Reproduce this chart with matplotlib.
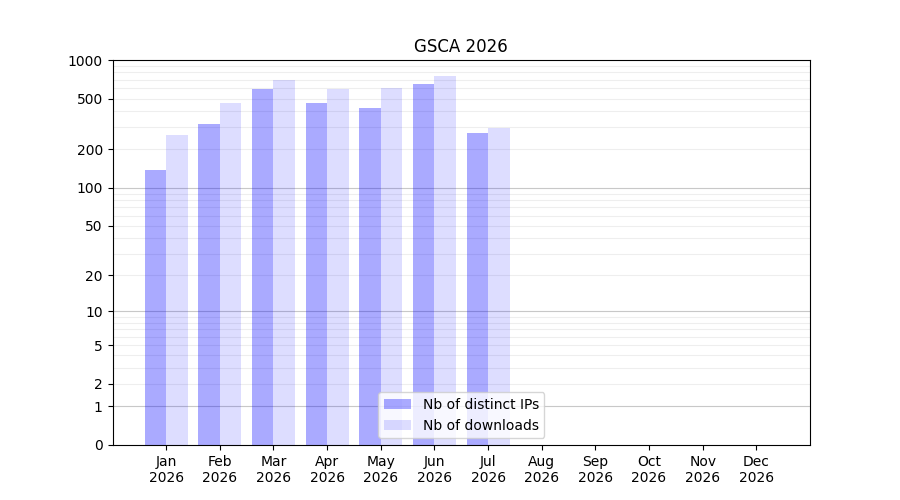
import numpy as np
import matplotlib
matplotlib.use("Agg")
import matplotlib.pyplot as plt

months = ["Jan", "Feb", "Mar", "Apr", "May", "Jun", "Jul", "Aug", "Sep", "Oct", "Nov", "Dec"]
year = "2026"
ips = [139, 315, 593, 461, 421, 649, 268]
downloads = [258, 461, 698, 593, 604, 750, 293]
yticks = [0, 1, 2, 5, 10, 20, 50, 100, 200, 500, 1000]
major_grid = [1, 10, 100]
minor_grid = [v * m for m in (1, 10, 100) for v in range(2, 10)]


def fwd(y):
    return np.log10(np.maximum(y, 0) + 1)


def inv(y):
    return 10 ** y - 1


fig, ax = plt.subplots(figsize=(9, 5), dpi=100)
ax.set_yscale("function", functions=(fwd, inv))

for g in minor_grid:
    ax.axhline(g, color="#eeeeee", lw=0.8, zorder=1)
for g in major_grid:
    ax.axhline(g, color="#c8c8c8", lw=0.8, zorder=1)

x = np.arange(len(ips))
w = 0.4
ax.bar(x - w / 2, ips, w, color="blue", alpha=1 / 3, lw=0, label="Nb of distinct IPs", zorder=2)
ax.bar(x + w / 2, downloads, w, color="blue", alpha=0.133, lw=0, label="Nb of downloads", zorder=2)

ax.set_ylim(0, 1000)
ax.set_yticks(yticks)
ax.set_yticklabels([str(v) for v in yticks])
ax.minorticks_off()
ax.set_xlim(-1, 12)
ax.set_xticks(np.arange(len(months)))
ax.set_xticklabels([m + "\n" + year for m in months])
ax.set_title("GSCA " + year)
ax.legend(loc="lower center")

fig.savefig("out.png")
